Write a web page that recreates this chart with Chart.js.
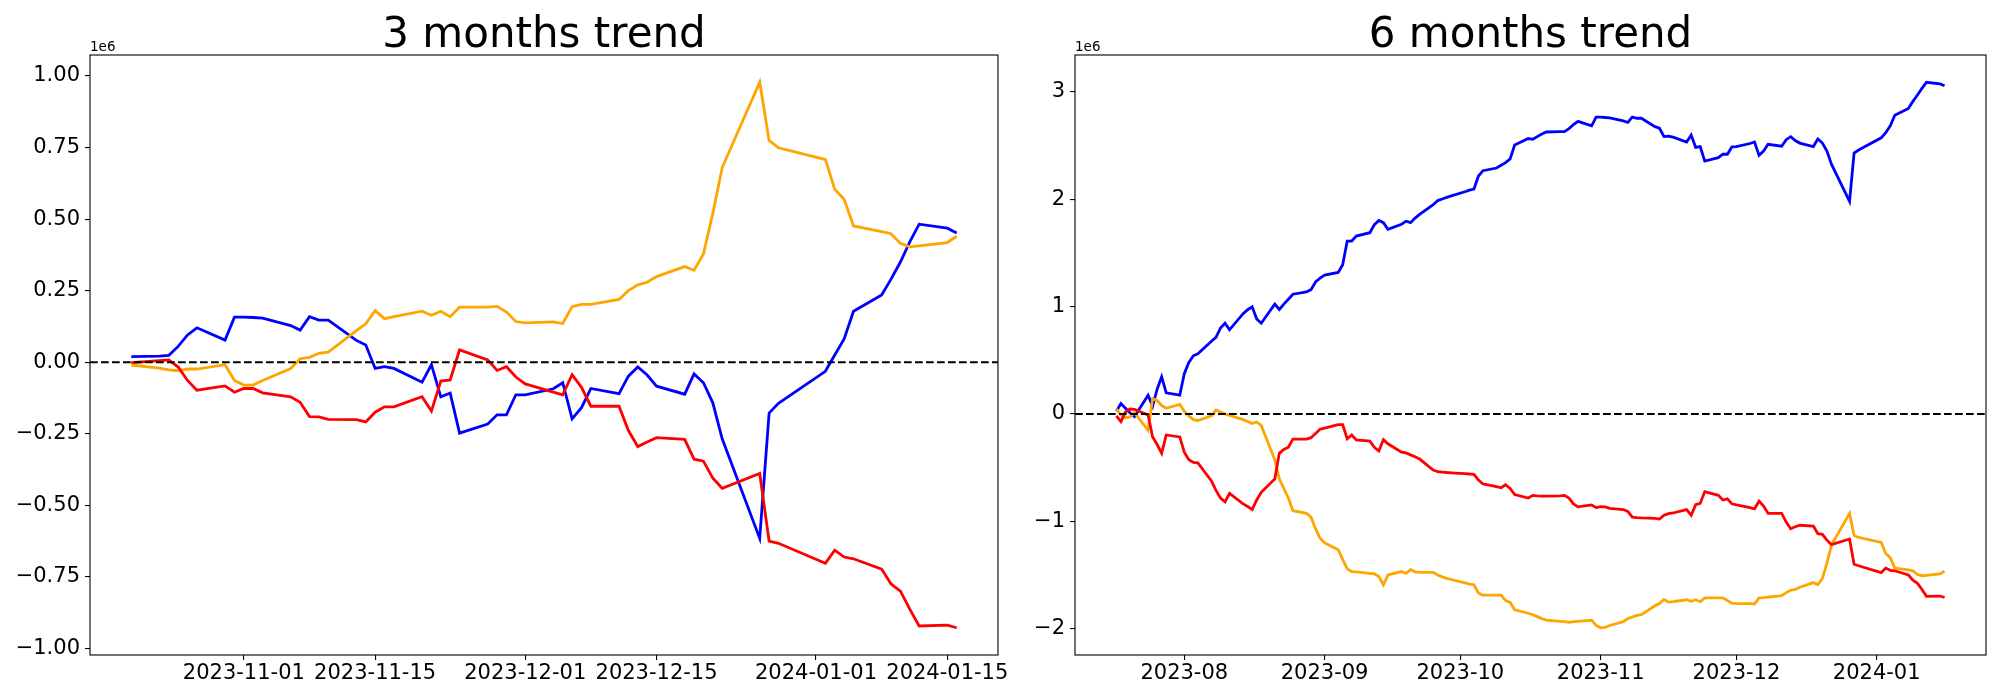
<!DOCTYPE html>
<html>
<head>
<meta charset="utf-8">
<script src="https://cdn.jsdelivr.net/npm/chart.js@4.4.0/dist/chart.umd.min.js"></script>
<style>
  body { margin: 0; background: #fff; }
  #wrap { position: relative; width: 2000px; height: 700px; }
  .box { position: absolute; top: 0; height: 700px; }
</style>
</head>
<body>
<div id="wrap">
  <div class="box" style="left:0;width:1010px"><canvas id="chart3m"></canvas></div>
  <div class="box" style="left:1010px;width:990px"><canvas id="chart6m"></canvas></div>
</div>
<script>
// 3 months (values in 1e6)
const dates3m = [
  '2023-10-20','2023-10-23','2023-10-24','2023-10-25','2023-10-26','2023-10-27','2023-10-30','2023-10-31',
  '2023-11-01','2023-11-02','2023-11-03','2023-11-06','2023-11-07','2023-11-08','2023-11-09','2023-11-10',
  '2023-11-13','2023-11-14','2023-11-15','2023-11-16','2023-11-17','2023-11-20','2023-11-21','2023-11-22',
  '2023-11-23','2023-11-24','2023-11-27','2023-11-28','2023-11-29','2023-11-30',
  '2023-12-01','2023-12-04','2023-12-05','2023-12-06','2023-12-07','2023-12-08','2023-12-11','2023-12-12',
  '2023-12-13','2023-12-14','2023-12-15','2023-12-18','2023-12-19','2023-12-20','2023-12-21','2023-12-22',
  '2023-12-26','2023-12-27','2023-12-28',
  '2024-01-02','2024-01-03','2024-01-04','2024-01-05','2024-01-08','2024-01-09','2024-01-10','2024-01-11',
  '2024-01-12','2024-01-15','2024-01-16'
];
const blue3m = [
  0.019, 0.021, 0.024, 0.055, 0.095, 0.120, 0.077, 0.157,
  0.157, 0.156, 0.154, 0.128, 0.112, 0.159, 0.147, 0.147, 0.076, 0.060, -0.022, -0.016, -0.022,
  -0.070, -0.009, -0.121, -0.108, -0.248, -0.216, -0.184, -0.184, -0.114,
  -0.114, -0.093, -0.072, -0.198, -0.159, -0.092, -0.110, -0.049, -0.017, -0.045, -0.084,
  -0.112, -0.041, -0.072, -0.142, -0.268, -0.616, -0.178, -0.144,
  -0.032, 0.025, 0.081, 0.178, 0.235, 0.290, 0.350, 0.420, 0.482, 0.468, 0.451
];
const orange3m = [
  -0.010, -0.021, -0.027, -0.030, -0.024, -0.024, -0.009, -0.064,
  -0.080, -0.080, -0.064, -0.022, 0.012, 0.017, 0.031, 0.035, 0.110, 0.134, 0.180, 0.152, 0.159,
  0.178, 0.164, 0.178, 0.159, 0.192, 0.192, 0.195, 0.175, 0.142,
  0.137, 0.141, 0.135, 0.194, 0.202, 0.202, 0.219, 0.250, 0.270, 0.279, 0.299,
  0.334, 0.321, 0.378, 0.520, 0.680, 0.978, 0.775, 0.749,
  0.708, 0.604, 0.569, 0.476, 0.456, 0.449, 0.415, 0.403, 0.406, 0.418, 0.440
];
const red3m = [
  -0.002, 0.005, 0.008, -0.017, -0.064, -0.098, -0.083, -0.105,
  -0.092, -0.092, -0.107, -0.121, -0.140, -0.190, -0.191, -0.200, -0.201, -0.209, -0.175, -0.156, -0.156,
  -0.121, -0.171, -0.066, -0.062, 0.043, 0.008, -0.029, -0.016, -0.052,
  -0.076, -0.105, -0.114, -0.044, -0.088, -0.154, -0.154, -0.239, -0.295, -0.279, -0.264,
  -0.270, -0.339, -0.346, -0.405, -0.441, -0.389, -0.625, -0.633,
  -0.703, -0.657, -0.681, -0.687, -0.723, -0.775, -0.800, -0.863, -0.922, -0.919, -0.928
];

// 6 months (values in 1e6)
const dates6m = [
  '2023-07-17','2023-07-18','2023-07-19','2023-07-20','2023-07-21','2023-07-24','2023-07-25','2023-07-26',
  '2023-07-27','2023-07-28','2023-07-31',
  '2023-08-01','2023-08-02','2023-08-03','2023-08-04','2023-08-07','2023-08-08','2023-08-09','2023-08-10',
  '2023-08-11','2023-08-14','2023-08-15','2023-08-16','2023-08-17','2023-08-18','2023-08-21','2023-08-22',
  '2023-08-23','2023-08-24','2023-08-25','2023-08-28','2023-08-29','2023-08-30','2023-08-31',
  '2023-09-01','2023-09-04','2023-09-05','2023-09-06','2023-09-07','2023-09-08','2023-09-11','2023-09-12',
  '2023-09-13','2023-09-14','2023-09-15','2023-09-18','2023-09-19','2023-09-20','2023-09-21','2023-09-22',
  '2023-09-25','2023-09-26','2023-09-27','2023-09-28','2023-09-29',
  '2023-10-02','2023-10-03','2023-10-04','2023-10-05','2023-10-06','2023-10-09','2023-10-10','2023-10-11',
  '2023-10-12','2023-10-13','2023-10-16','2023-10-17','2023-10-18','2023-10-19','2023-10-20','2023-10-23',
  '2023-10-24','2023-10-25','2023-10-26','2023-10-27','2023-10-30','2023-10-31',
  '2023-11-01','2023-11-02','2023-11-03','2023-11-06','2023-11-07','2023-11-08','2023-11-09','2023-11-10',
  '2023-11-13','2023-11-14','2023-11-15','2023-11-16','2023-11-17','2023-11-20','2023-11-21','2023-11-22',
  '2023-11-23','2023-11-24','2023-11-27','2023-11-28','2023-11-29','2023-11-30',
  '2023-12-01','2023-12-04','2023-12-05','2023-12-06','2023-12-07','2023-12-08','2023-12-11','2023-12-12',
  '2023-12-13','2023-12-14','2023-12-15','2023-12-18','2023-12-19','2023-12-20','2023-12-21','2023-12-22',
  '2023-12-26','2023-12-27','2023-12-28',
  '2024-01-02','2024-01-03','2024-01-04','2024-01-05','2024-01-08','2024-01-09','2024-01-10','2024-01-11',
  '2024-01-12','2024-01-15','2024-01-16'
];
const blue6m = [
  0.025, 0.096, 0.053, 0.011, -0.025, 0.174, 0.071, 0.230, 0.345, 0.196, 0.174,
  0.374, 0.480, 0.541, 0.559, 0.676, 0.712, 0.800, 0.844, 0.783, 0.933, 0.970, 0.997, 0.883, 0.844,
  1.022, 0.972, 1.022, 1.068, 1.114, 1.136, 1.157, 1.228, 1.264,
  1.292, 1.317, 1.388, 1.609, 1.609, 1.655, 1.687, 1.762, 1.801, 1.780, 1.719,
  1.766, 1.794, 1.780, 1.823, 1.858, 1.947, 1.986, 2.001, 2.015, 2.029,
  2.068, 2.083, 2.093, 2.214, 2.264, 2.289, 2.314, 2.339, 2.374, 2.503,
  2.563, 2.556, 2.581, 2.606, 2.624, 2.627, 2.627, 2.656, 2.694, 2.723, 2.681, 2.763,
  2.763, 2.759, 2.755, 2.727, 2.713, 2.763, 2.752, 2.752, 2.674, 2.659, 2.581, 2.585, 2.577,
  2.531, 2.595, 2.481, 2.488, 2.353, 2.385, 2.417, 2.417, 2.485,
  2.488, 2.517, 2.531, 2.407, 2.446, 2.510, 2.492, 2.553, 2.581, 2.545, 2.521,
  2.489, 2.560, 2.521, 2.446, 2.325, 1.979, 2.428, 2.456,
  2.570, 2.617, 2.681, 2.780, 2.844, 2.909, 2.969, 3.030, 3.087, 3.072, 3.054
];
const orange6m = [
  0.046, -0.010, -0.036, -0.028, 0.011, -0.153, 0.142, 0.125, 0.078, 0.053, 0.089,
  0.025, -0.018, -0.053, -0.061, -0.018, 0.036, 0.018, 0.000, -0.014, -0.053, -0.071, -0.089, -0.075, -0.107,
  -0.427, -0.605, -0.694, -0.783, -0.901, -0.925, -0.961, -1.068, -1.157,
  -1.200, -1.264, -1.353, -1.442, -1.467, -1.470, -1.484, -1.488, -1.513, -1.591, -1.499,
  -1.467, -1.484, -1.449, -1.470, -1.474, -1.474, -1.499, -1.517, -1.531, -1.541,
  -1.573, -1.584, -1.591, -1.666, -1.687, -1.687, -1.687, -1.737, -1.755, -1.823,
  -1.855, -1.869, -1.887, -1.905, -1.919, -1.930, -1.933, -1.940, -1.933, -1.930, -1.919, -1.969,
  -1.990, -1.987, -1.969, -1.933, -1.905, -1.890, -1.876, -1.869, -1.786, -1.765, -1.727, -1.752, -1.748,
  -1.730, -1.744, -1.730, -1.748, -1.712, -1.712, -1.712, -1.737, -1.762,
  -1.766, -1.766, -1.769, -1.712, -1.709, -1.705, -1.691, -1.663, -1.641, -1.634, -1.613,
  -1.570, -1.588, -1.531, -1.388, -1.221, -0.926, -1.132, -1.150,
  -1.196, -1.299, -1.339, -1.435, -1.452, -1.460, -1.495, -1.506, -1.502, -1.488, -1.463
];
const red6m = [
  -0.018, -0.071, 0.018, 0.046, 0.043, -0.010, -0.214, -0.285, -0.367, -0.196, -0.214,
  -0.356, -0.427, -0.452, -0.456, -0.623, -0.712, -0.783, -0.819, -0.740, -0.837, -0.862, -0.890, -0.801, -0.730,
  -0.605, -0.367, -0.331, -0.310, -0.235, -0.235, -0.221, -0.182, -0.142,
  -0.132, -0.100, -0.100, -0.231, -0.196, -0.242, -0.253, -0.310, -0.345, -0.239, -0.278,
  -0.356, -0.363, -0.381, -0.399, -0.420, -0.523, -0.538, -0.541, -0.545, -0.548,
  -0.555, -0.559, -0.562, -0.616, -0.652, -0.676, -0.687, -0.659, -0.694, -0.751,
  -0.783, -0.758, -0.762, -0.765, -0.765, -0.762, -0.758, -0.783, -0.837, -0.865, -0.847, -0.872,
  -0.862, -0.865, -0.879, -0.890, -0.908, -0.961, -0.965, -0.968, -0.972, -0.979, -0.943, -0.929, -0.922,
  -0.890, -0.943, -0.844, -0.833, -0.723, -0.758, -0.801, -0.790, -0.837,
  -0.847, -0.872, -0.883, -0.812, -0.858, -0.926, -0.926, -1.007, -1.068, -1.050, -1.036,
  -1.043, -1.114, -1.121, -1.175, -1.217, -1.164, -1.399, -1.413,
  -1.477, -1.435, -1.456, -1.460, -1.499, -1.548, -1.577, -1.634, -1.698, -1.695, -1.709
];

// tick positions and labels
const xTicks3m = ['2023-11-01', '2023-11-15', '2023-12-01', '2023-12-15', '2024-01-01', '2024-01-15'];
const xLabels3m = ['2023-11-01', '2023-11-15', '2023-12-01', '2023-12-15', '2024-01-01', '2024-01-15'];
const xTicks6m = ['2023-08-01', '2023-09-01', '2023-10-01', '2023-11-01', '2023-12-01', '2024-01-01'];
const xLabels6m = ['2023-08', '2023-09', '2023-10', '2023-11', '2023-12', '2024-01'];
const yTicks3m = [-1, -0.75, -0.5, -0.25, 0, 0.25, 0.5, 0.75, 1];
const yTicks6m = [-2, -1, 0, 1, 2, 3];

const FONT = "'DejaVu Sans', sans-serif";

const dayNum = s => {
  const [y, m, d] = s.split('-').map(Number);
  return Date.UTC(y, m - 1, d) / 86400000;
};
const minus = s => s.replace('-', '\u2212');

// frame, title over the plot area and the 1e6 offset label
const mplText = {
  id: 'mplText',
  afterDraw(chart, args, opts) {
    const { ctx, chartArea: a } = chart;
    ctx.save();
    ctx.strokeStyle = '#000';
    ctx.lineWidth = 1.1;
    ctx.strokeRect(a.left, a.top, a.right - a.left, a.bottom - a.top);
    ctx.fillStyle = '#000';
    ctx.textBaseline = 'alphabetic';
    ctx.font = '42px ' + FONT;
    ctx.textAlign = 'center';
    ctx.fillText(opts.title, (a.left + a.right) / 2, 47);
    ctx.font = '13.5px ' + FONT;
    ctx.textAlign = 'left';
    ctx.fillText(opts.offset, a.left, 51);
    ctx.restore();
  }
};

function makeChart(id, dates, blue, orange, red, xTicks, xLabels, yTicks, digits, title, yWidth, padRight) {
  const xs = dates.map(dayNum);
  const all = blue.concat(orange, red);
  const yMin = Math.min(...all), yMax = Math.max(...all);
  const xSpan = xs[xs.length - 1] - xs[0], ySpan = yMax - yMin;
  const xMin = xs[0] - 0.05 * xSpan, xMax = xs[xs.length - 1] + 0.05 * xSpan;
  const pts = vals => vals.map((v, i) => ({ x: xs[i], y: v }));
  const line = (label, color, vals, order) => ({
    label, data: pts(vals), borderColor: color, borderWidth: 2.8,
    pointRadius: 0, tension: 0, fill: false, order
  });
  const grid = { drawOnChartArea: false, drawTicks: true, tickLength: 5, color: '#000', lineWidth: 1.1 };

  new Chart(document.getElementById(id), {
    type: 'line',
    data: {
      datasets: [
        { label: 'zero', data: [{ x: xMin, y: 0 }, { x: xMax, y: 0 }], borderColor: '#000',
          borderWidth: 2, borderDash: [7.7, 3.3], pointRadius: 0, order: 0 },
        line('red', '#ff0000', red, 1),
        line('orange', '#ffa500', orange, 2),
        line('blue', '#0000ff', blue, 3)
      ]
    },
    options: {
      responsive: true,
      maintainAspectRatio: false,
      animation: false,
      layout: { padding: { top: 55, right: padRight, left: 0, bottom: 0 } },
      plugins: {
        legend: { display: false },
        tooltip: { enabled: false },
        mplText: { title: title, offset: '1e6' }
      },
      scales: {
        x: {
          type: 'linear', min: xMin, max: xMax,
          grid: grid, border: { display: false },
          afterBuildTicks: s => { s.ticks = xTicks.map(t => ({ value: dayNum(t) })); },
          afterFit: s => { s.height = 45; },
          ticks: {
            font: { family: FONT, size: 21 }, color: '#000', padding: 1,
            maxRotation: 0, autoSkip: false,
            callback: (v, i) => xLabels[i]
          }
        },
        y: {
          min: yMin - 0.05 * ySpan, max: yMax + 0.05 * ySpan,
          grid: grid, border: { display: false },
          afterBuildTicks: s => { s.ticks = yTicks.map(v => ({ value: v })); },
          afterFit: s => { s.width = yWidth; },
          ticks: {
            font: { family: FONT, size: 21 }, color: '#000', padding: 5,
            callback: v => minus(v.toFixed(digits))
          }
        }
      }
    },
    plugins: [mplText]
  });
}

makeChart('chart3m', dates3m, blue3m, orange3m, red3m, xTicks3m, xLabels3m, yTicks3m, 2, '3 months trend', 90, 12);
makeChart('chart6m', dates6m, blue6m, orange6m, red6m, xTicks6m, xLabels6m, yTicks6m, 0, '6 months trend', 65, 14);
</script>
</body>
</html>
